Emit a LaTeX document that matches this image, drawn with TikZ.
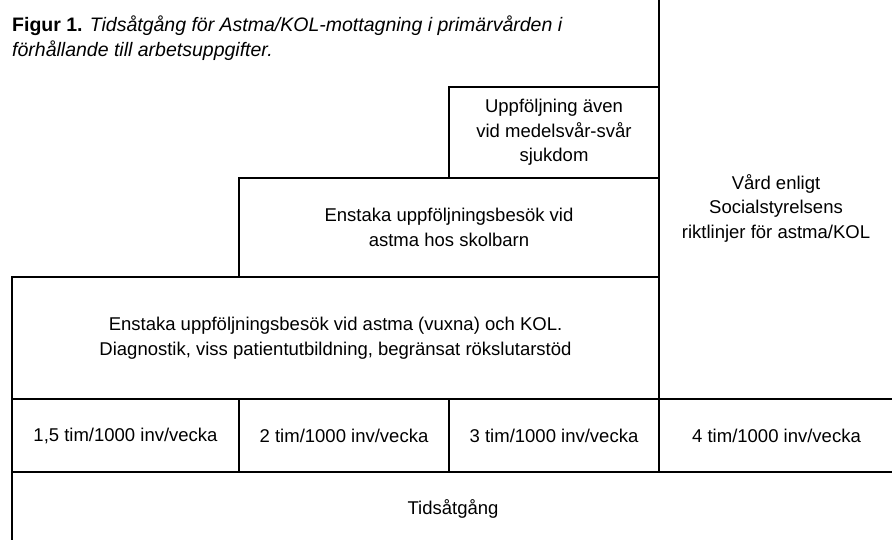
\documentclass[tikz,border=0pt]{standalone}
\usepackage{fontspec}
\setmainfont{Liberation Sans}
\begin{document}
\begin{tikzpicture}[
  x=1pt, y=-1pt,
  box/.style={draw, line width=1.5pt, align=center, inner sep=0pt, font=\fontsize{18.5}{24.5}\selectfont},
  txt/.style={align=center, inner sep=0pt, font=\fontsize{18.5}{24.5}\selectfont}
]
\useasboundingbox (0,0) rectangle (892,539);
% stair of tasks
\node[box, minimum width=210pt, minimum height=91pt] (severe) at (554,132.5) {Uppföljning även\\vid medelsvår-svår\\sjukdom};
\node[box, minimum width=420pt, minimum height=99pt] (school) at (449,227.5) {Enstaka uppföljningsbesök vid\\astma hos skolbarn};
\node[box, minimum width=647pt, minimum height=122pt] (adult) at (335.5,338) {Enstaka uppföljningsbesök vid astma (vuxna) och KOL.\\Diagnostik, viss patientutbildning, begränsat rökslutarstöd};
\node[box, minimum width=235pt, minimum height=410pt] (guide) at (776.5,194) {};
\node[txt] (guidetxt) at (776,208) {Vård enligt\\Socialstyrelsens\\riktlinjer för astma/KOL};
% time per week
\node[box, minimum width=227pt, minimum height=73pt] (rate1) at (125.5,435.5) {1,5 tim/1000 inv/vecka};
\node[box, minimum width=210pt, minimum height=73pt] (rate2) at (344,435.5) {2 tim/1000 inv/vecka};
\node[box, minimum width=210pt, minimum height=73pt] (rate3) at (554,435.5) {3 tim/1000 inv/vecka};
\node[box, minimum width=235pt, minimum height=73pt] (rate4) at (776.5,435.5) {4 tim/1000 inv/vecka};
\node[box, minimum width=882pt, minimum height=74pt] (total) at (453,509) {Tidsåtgång};
% caption
\node[anchor=north west, align=left, inner sep=0pt, font=\fontsize{19.5}{25}\selectfont] (caption) at (12,16)
  {\textbf{Figur 1.} \textit{Tidsåtgång för Astma/KOL-mottagning i primärvården i}\\\textit{förhållande till arbetsuppgifter.}};
\end{tikzpicture}
\end{document}
